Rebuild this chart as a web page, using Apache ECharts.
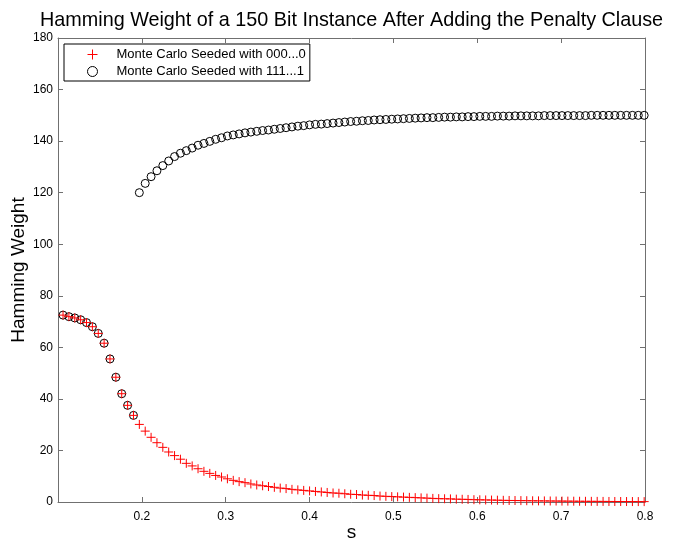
<!DOCTYPE html>
<html>
<head>
<meta charset="utf-8">
<script src="https://cdn.jsdelivr.net/npm/echarts@6/dist/echarts.min.js"></script>
<style>
  html, body { margin: 0; padding: 0; background: #fff; }
  #chart { width: 673px; height: 547px; }
</style>
</head>
<body>
<div id="chart"></div>
<script>
// s values (x axis)
let sValues = [
  0.106, 0.113, 0.120, 0.127, 0.134, 0.141, 0.148, 0.155, 0.162, 0.169,
  0.176, 0.183, 0.190, 0.197, 0.204, 0.211, 0.218, 0.225, 0.232, 0.239,
  0.246, 0.253, 0.260, 0.267, 0.274, 0.281, 0.288, 0.295, 0.302, 0.309,
  0.316, 0.323, 0.330, 0.337, 0.344, 0.351, 0.358, 0.365, 0.372, 0.379,
  0.386, 0.393, 0.400, 0.407, 0.414, 0.421, 0.428, 0.435, 0.442, 0.449,
  0.456, 0.463, 0.470, 0.477, 0.484, 0.491, 0.498, 0.505, 0.512, 0.519,
  0.526, 0.533, 0.540, 0.547, 0.554, 0.561, 0.568, 0.575, 0.582, 0.589,
  0.596, 0.603, 0.610, 0.617, 0.624, 0.631, 0.638, 0.645, 0.652, 0.659,
  0.666, 0.673, 0.680, 0.687, 0.694, 0.701, 0.708, 0.715, 0.722, 0.729,
  0.736, 0.743, 0.750, 0.757, 0.764, 0.771, 0.778, 0.785, 0.792, 0.799
];

// 000...0 种子
let zeroSeeded = [
  72.5, 71.9, 71.4, 70.7, 69.6, 68.0, 65.4, 61.6, 55.5, 48.4,
  42.0, 37.5, 33.6, 30.1, 27.5, 25.1, 23.0, 21.2, 19.4, 18.0,
  16.6, 15.0, 14.0, 12.9, 11.9, 11.1, 10.3, 9.7, 9.0, 8.4,
  7.9, 7.5, 7.0, 6.6, 6.3, 6.0, 5.7, 5.4, 5.2, 4.9,
  4.7, 4.5, 4.3, 4.1, 3.9, 3.7, 3.5, 3.4, 3.2, 3.0,
  2.9, 2.7, 2.6, 2.5, 2.3, 2.2, 2.1, 2.0, 1.9, 1.8,
  1.7, 1.6, 1.5, 1.4, 1.3, 1.25, 1.2, 1.1, 1.05, 1.0,
  0.9, 0.85, 0.8, 0.75, 0.7, 0.65, 0.6, 0.57, 0.54, 0.5,
  0.47, 0.44, 0.42, 0.39, 0.37, 0.35, 0.33, 0.31, 0.29, 0.27,
  0.26, 0.24, 0.23, 0.21, 0.2, 0.19, 0.18, 0.17, 0.16, 0.15
];

// 111...1 种子
let oneSeeded = [
  72.5, 71.9, 71.4, 70.7, 69.6, 68.0, 65.4, 61.6, 55.5, 48.4,
  42.0, 37.5, 33.6,
  120.0, 123.6, 126.2, 128.5, 130.5, 132.3, 134.0, 135.3, 136.3, 137.3,
  138.4, 139.1, 139.9, 140.7, 141.3, 142.0, 142.4, 142.8, 143.2, 143.5,
  143.8, 144.1, 144.3, 144.6, 144.9, 145.2, 145.5, 145.8, 146.0, 146.3,
  146.5, 146.6, 146.8, 147.0, 147.2, 147.4, 147.6, 147.7, 147.9, 148.0,
  148.2, 148.3, 148.4, 148.5, 148.6, 148.7, 148.8, 148.9, 149.0, 149.1,
  149.1, 149.2, 149.3, 149.3, 149.4, 149.4, 149.5, 149.5, 149.6, 149.6,
  149.6, 149.7, 149.7, 149.7, 149.8, 149.8, 149.8, 149.8, 149.8, 149.9,
  149.9, 149.9, 149.9, 149.9, 149.9, 149.9, 149.9, 150.0, 150.0, 150.0,
  150.0, 150.0, 150.0, 150.0, 150.0, 150.0, 150.0
];

let seriesNames = ['Monte Carlo Seeded with 000...0', 'Monte Carlo Seeded with 111...1'];

(function () {
  let myChart = echarts.init(document.getElementById('chart'));
  let font = 'Liberation Sans, Arial, Helvetica, sans-serif';
  let axisGray = '#707070';
  let plusPath = 'path://M0,5L10,5M5,0L5,10';

  let zeroData = sValues.map((s, i) => [s, zeroSeeded[i]]);
  let oneData = sValues.map((s, i) => [s, oneSeeded[i]]);

  let xCommon = {
    type: 'value', min: 0.1, max: 0.8, interval: 0.1,
    axisLine: { show: true, onZero: false, lineStyle: { color: axisGray, width: 1 } },
    axisTick: { show: true, inside: true, length: 5, lineStyle: { color: axisGray } },
    splitLine: { show: false }
  };
  let yCommon = {
    type: 'value', min: 0, max: 180, interval: 20,
    axisLine: { show: true, onZero: false, lineStyle: { color: axisGray, width: 1 } },
    axisTick: { show: true, inside: true, length: 5, lineStyle: { color: axisGray } },
    splitLine: { show: false }
  };

  let option = {
    backgroundColor: '#fff',
    animation: false,
    title: {
      text: 'Hamming Weight of a 150 Bit Instance After Adding the Penalty Clause',
      left: 35,
      top: 6,
      textStyle: { fontFamily: font, fontSize: 19.8, fontWeight: 'normal', color: '#000' }
    },
    legend: {
      orient: 'vertical',
      left: 64,
      top: 44,
      padding: [4, 4, 3, 23],
      itemWidth: 10,
      itemHeight: 10,
      itemGap: 4,
      borderColor: '#000',
      borderWidth: 1,
      backgroundColor: '#fff',
      itemStyle: { borderWidth: 1 },
      textStyle: { fontFamily: font, fontSize: 13, color: '#000', padding: [0, 0, 0, 14] },
      data: [
        { name: seriesNames[0], icon: plusPath },
        { name: seriesNames[1], icon: 'circle' }
      ]
    },
    grid: { left: 58, right: 28, top: 38, bottom: 45, outerBoundsMode: 'none' },
    xAxis: [
      Object.assign({}, xCommon, {
        position: 'bottom',
        name: 's',
        nameLocation: 'middle',
        nameGap: 21,
        nameMoveOverlap: false,
        nameTextStyle: { fontFamily: font, fontSize: 19, color: '#000' },
        axisLabel: {
          showMinLabel: false, margin: 9,
          fontFamily: font, fontSize: 12, color: '#000',
          formatter: v => v.toFixed(1)
        }
      }),
      Object.assign({}, xCommon, { position: 'top', axisLabel: { show: false } })
    ],
    yAxis: [
      Object.assign({}, yCommon, {
        position: 'left',
        name: 'Hamming Weight',
        nameLocation: 'middle',
        nameGap: 30,
        nameMoveOverlap: false,
        nameTextStyle: { fontFamily: font, fontSize: 19, color: '#000' },
        axisLabel: { margin: 5, fontFamily: font, fontSize: 12, color: '#000' }
      }),
      Object.assign({}, yCommon, { position: 'right', axisLabel: { show: false } })
    ],
    series: [
      {
        name: seriesNames[0],
        type: 'scatter',
        data: zeroData,
        symbol: plusPath,
        symbolSize: 9,
        z: 3,
        itemStyle: { color: 'transparent', borderColor: '#ff0000', borderWidth: 1, opacity: 1 }
      },
      {
        name: seriesNames[1],
        type: 'scatter',
        data: oneData,
        symbol: 'circle',
        symbolSize: 8,
        z: 2,
        itemStyle: { color: 'transparent', borderColor: '#000', borderWidth: 1, opacity: 1 }
      }
    ]
  };
  myChart.setOption(option);
})();
</script>
</body>
</html>
